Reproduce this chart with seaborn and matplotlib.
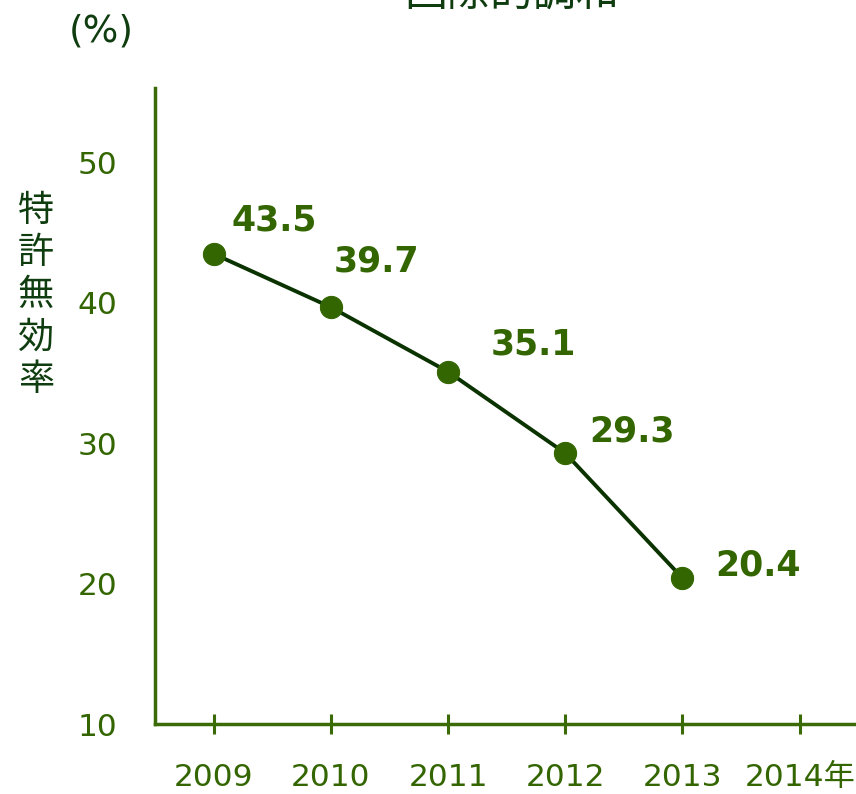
import pandas as pd
import seaborn as sns
import matplotlib.pyplot as plt

sns.set_style("white")
plt.rcParams['font.family'] = ['DejaVu Sans', 'Noto Sans CJK JP']

years = [2009, 2010, 2011, 2012, 2013]
rates = [43.5, 39.7, 35.1, 29.3, 20.4]
tick_years = [2009, 2010, 2011, 2012, 2013, 2014]
tick_labels = ['2009', '2010', '2011', '2012', '2013', '2014年']
y_ticks = [10, 20, 30, 40, 50]
# label offsets in pixels (dx, dy)
label_offsets = [(61, 33), (46, 46), (85, 27), (67, 22), (76, 13)]

green = '#336600'
dark = '#0f3d0f'
axis_green = '#3a6b06'

df = pd.DataFrame({'year': years, 'rate': rates})

fig = plt.figure(figsize=(8.56, 7.94), dpi=100)
ax = fig.add_axes([0.181, 0.088, 0.819, 0.801])

sns.lineplot(data=df, x='year', y='rate', ax=ax, color='#0a3300', linewidth=2.8,
             marker='o', markersize=16, markerfacecolor=green,
             markeredgecolor=green)

for x, y, (dx, dy) in zip(years, rates, label_offsets):
    ax.annotate(f'{y:.1f}', (x, y), xytext=(dx, dy), textcoords='offset pixels',
                ha='center', va='center', fontsize=25, fontweight='bold',
                color=green)

ax.set_xlim(2008.5, 2014.48)
ax.set_ylim(10, 55.3)
ax.set_xticks(tick_years)
ax.set_xticklabels(tick_labels)
ax.set_yticks(y_ticks)
ax.set_xlabel('')
ax.set_ylabel('')

for s in ['top', 'right']:
    ax.spines[s].set_visible(False)
for s in ['left', 'bottom']:
    ax.spines[s].set_color(axis_green)
    ax.spines[s].set_linewidth(2.5)

ax.tick_params(axis='x', bottom=True, direction='inout', length=14, width=2.2,
               color=axis_green, labelcolor=green, labelsize=22.5, pad=21)
ax.tick_params(axis='y', left=False, length=0, labelcolor=green,
               labelsize=22.5, pad=27)

fig.text(0.118, 0.96, '(%)', ha='center', va='center', fontsize=27, color=dark)
fig.text(0.042, 0.628, '\n'.join('特許無効率'), ha='center', va='center',
         fontsize=26, color=dark, linespacing=1.3)
fig.text(0.598, 1.008, '国際的調和', ha='center', va='center', fontsize=31,
         color=dark)

fig.savefig('out.png', dpi=100)
